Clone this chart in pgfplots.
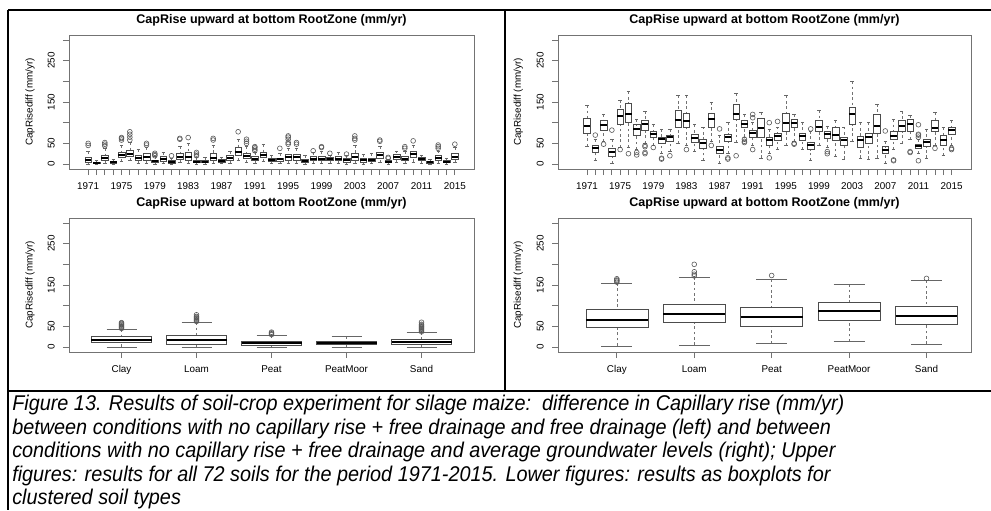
\documentclass[border=0pt]{standalone}
\usepackage{fontspec}
\setmainfont{Liberation Sans}
\newfontfamily\capfont[FakeStretch=0.93]{Liberation Sans}
\usepackage{pgfplots}
\pgfplotsset{compat=1.18}
\usepackage{pgfplotstable}
\usepgfplotslibrary{statistics}

% ---------- top-left: per year, free drainage ----------
\pgfplotstableread{
pos lw lq med uq uw
1 0 5 10 16 30
2 0 1 3 5 9
3 2 8 14 22 38
4 0 2 4 7 12
5 6 16 22 28 45
6 8 18 25 33 52
7 2 9 15 22 35
8 2 10 18 25 40
9 0 4 7 10 18
10 1 6 12 18 28
11 0 2 5 9 14
12 3 12 18 26 42
13 1 8 16 28 50
14 0 3 5 9 16
15 0 3 6 10 16
16 1 8 15 26 46
17 1 5 8 11 16
18 2 8 14 20 30
19 8 20 28 40 60
20 4 14 20 26 42
21 2 8 12 18 28
22 6 16 22 28 48
23 1 6 10 14 22
24 1 6 11 15 25
25 2 10 16 24 38
26 2 10 17 24 38
27 0 4 8 12 22
28 2 8 13 18 28
29 2 8 13 18 30
30 2 8 12 16 22
31 2 8 13 19 28
32 0 5 9 13 20
33 2 10 16 26 46
34 0 5 9 14 24
35 1 6 10 15 26
36 4 15 22 28 42
37 0 3 6 9 12
38 3 12 18 24 32
39 2 8 13 18 30
40 5 16 24 32 45
41 2 8 12 16 22
42 0 2 4 7 12
43 2 8 14 20 32
44 0 3 5 8 14
45 4 12 18 25 40
}\tlbox
\pgfplotstableread{
x y
1 45
1 50
3 44
3 48
3 52
5 58
5 62
5 64
6 58
6 65
6 72
6 78
8 46
8 50
9 20
9 23
9 26
11 20
12 60
12 62
13 64
14 20
14 24
14 28
16 58
16 62
19 78
20 50
20 55
20 60
21 32
21 36
21 40
21 42
24 38
25 48
25 52
25 60
25 65
25 68
26 48
26 52
28 32
29 40
29 42
30 26
32 24
33 58
33 62
33 68
36 55
36 58
37 14
37 16
39 38
39 42
40 56
43 38
43 42
43 46
45 48
}\tlout

% ---------- top-right: per year, groundwater ----------
\pgfplotstableread{
pos lw lq med uq uw
1 43 75 93 110 142
2 8 28 38 45 60
3 55 82 95 105 120
4 2 18 30 38 60
5 40 95 115 132 155
6 40 102 122 148 175
7 35 70 85 95 108
8 50 82 97 105 128
9 45 65 73 80 95
10 25 50 60 65 85
11 30 55 65 70 85
12 50 88 107 130 165
13 45 88 105 122 165
14 30 52 63 72 95
15 8 38 50 60 90
16 55 90 108 122 150
17 2 25 35 42 70
18 25 55 65 72 100
19 52 108 122 145 170
20 65 88 98 105 120
21 45 65 75 82 100
22 15 65 88 110 125
23 25 45 58 65 85
24 35 58 68 75 90
25 45 80 100 122 165
26 55 90 100 108 120
27 35 58 68 75 102
28 8 35 45 52 80
29 45 78 90 105 130
30 40 62 72 80 92
31 18 58 70 88 105
32 12 45 58 65 90
33 55 95 120 138 200
34 15 40 58 68 100
35 12 50 65 75 100
36 15 75 92 120 145
37 2 25 35 42 55
38 35 60 68 80 108
39 50 80 92 105 128
40 60 80 97 108 118
41 25 38 43 48 60
42 15 42 53 60 85
43 45 80 88 105 125
44 20 45 58 70 88
45 45 72 82 90 105
}\trbox
\pgfplotstableread{
x y
2 70
3 48
4 82
5 35
6 25
7 22
7 28
8 25
8 28
8 42
8 45
9 40
10 12
10 14
11 20
13 35
16 45
17 85
18 12
18 15
19 20
20 52
20 55
20 60
21 35
21 112
21 120
23 15
23 100
24 103
26 48
26 50
28 85
30 25
30 30
37 80
38 8
38 10
40 28
40 30
41 8
41 65
41 70
41 72
41 95
43 38
45 35
45 38
}\trout

% ---------- bottom-left: soil clusters, free drainage ----------
\pgfplotstableread{
pos lw lq med uq uw
1 0 11 17 25 43
2 0 6 17 28 60
3 0 4 9 14 28
4 0 6 10 14 26
5 0 6 12 19 36
}\blbox
\pgfplotstableread{
x y
1 45
1 47
1 49
1 51
1 53
1 55
1 57
1 59
2 62
2 64
2 66
2 68
2 70
2 72
2 74
2 78
3 30
3 32
3 34
3 36
5 37
5 39
5 41
5 43
5 45
5 47
5 49
5 51
5 53
5 55
5 60
}\blout

% ---------- bottom-right: soil clusters, groundwater ----------
\pgfplotstableread{
pos lw lq med uq uw
1 3 47 65 91 155
2 5 59 79 103 169
3 9 50 72 96 164
4 13 64 87 108 152
5 7 55 75 98 161
}\brbox
\pgfplotstableread{
x y
1 157
1 160
1 162
1 165
2 172
2 176
2 182
2 200
3 173
5 166
}\brout

\pgfplotsset{
  rpanel/.style={
    scale only axis,
    ymin=-12, ymax=312,
    ytick={0,50,100,150,200,250,300},
    yticklabels={0,50,,150,,250,},
    axis line style={draw=black!55, line width=0.6pt},
    tick style={draw=black!55, line width=0.6pt},
    tick align=outside,
    major tick length=4.5pt,
    xtick pos=bottom, ytick pos=left,
    tick label style={font=\fontsize{7.4}{8}\selectfont, inner sep=0pt, text=black},
    yticklabel style={rotate=90, anchor=south},
    xticklabel style={anchor=north},
    xticklabel shift=5.5pt,
    yticklabel shift=6pt,
    title={CapRise upward at bottom RootZone (mm/yr)},
    title style={font=\fontsize{9.4}{11}\selectfont\bfseries, at={(0.5,1)}, anchor=center, yshift=5.25pt},
    ylabel={CapRisediff (mm/yr)},
    ylabel style={font=\fontsize{7.4}{8}\selectfont, at={(axis description cs:-0.096,0.5)}, anchor=center},
  },
  rbp/.style={
    solid, draw=black!70, line width=0.45pt, fill=none, mark=none,
    boxplot/draw direction=y,
    boxplot/box extend=0.8,
    boxplot/whisker extend=0.4,
    boxplot/every median/.style={draw=black, line width=1.5pt},
    boxplot/draw/lower whisker/.code={%
      \draw[dash pattern=on 2pt off 2pt, draw=black!55, line width=0.45pt]
        (boxplot box cs:\pgfplotsboxplotvalue{lower whisker},0.5)
        -- (boxplot box cs:\pgfplotsboxplotvalue{lower quartile},0.5);
      \draw[solid, draw=black!60, line width=0.45pt]
        (boxplot whisker cs:\pgfplotsboxplotvalue{lower whisker},0)
        -- (boxplot whisker cs:\pgfplotsboxplotvalue{lower whisker},1);
    },
    boxplot/draw/upper whisker/.code={%
      \draw[dash pattern=on 2pt off 2pt, draw=black!55, line width=0.45pt]
        (boxplot box cs:\pgfplotsboxplotvalue{upper whisker},0.5)
        -- (boxplot box cs:\pgfplotsboxplotvalue{upper quartile},0.5);
      \draw[solid, draw=black!60, line width=0.45pt]
        (boxplot whisker cs:\pgfplotsboxplotvalue{upper whisker},0)
        -- (boxplot whisker cs:\pgfplotsboxplotvalue{upper whisker},1);
    },
  },
  rout/.style={only marks, mark=o, mark size=1.8pt, draw=black!65, line width=0.45pt},
}

% one box per table row: values are taken from the table and expanded before \addplot
\newcommand\boxesfrom[2]{% #1 table, #2 last row index
  \pgfplotsinvokeforeach{0,...,#2}{%
    \pgfplotstablegetelem{##1}{lw}\of{#1}\let\vlw\pgfplotsretval
    \pgfplotstablegetelem{##1}{lq}\of{#1}\let\vlq\pgfplotsretval
    \pgfplotstablegetelem{##1}{med}\of{#1}\let\vmed\pgfplotsretval
    \pgfplotstablegetelem{##1}{uq}\of{#1}\let\vuq\pgfplotsretval
    \pgfplotstablegetelem{##1}{uw}\of{#1}\let\vuw\pgfplotsretval
    \pgfplotstablegetelem{##1}{pos}\of{#1}\let\vpos\pgfplotsretval
    \edef\tmpplot{\noexpand\addplot[rbp, boxplot prepared={draw position=\vpos, lower whisker=\vlw, lower quartile=\vlq, median=\vmed, upper quartile=\vuq, upper whisker=\vuw}] coordinates {};}%
    \tmpplot
  }%
}

\begin{document}
\begin{tikzpicture}
\path[use as bounding box] (0pt,0pt) rectangle (743.25pt,-382.5pt);

% frame lines
\draw[line width=1.5pt] (6pt,-7.875pt) -- (743.25pt,-7.875pt);
\draw[line width=1.5pt] (6pt,-7.875pt) -- (6pt,-382.5pt);
\draw[line width=1.5pt] (378.75pt,-7.875pt) -- (378.75pt,-293.25pt);
\draw[line width=1.5pt] (6pt,-293.25pt) -- (743.25pt,-293.25pt);

% top-left
\begin{axis}[rpanel, at={(51.75pt,-126.75pt)}, anchor=south west,
  width=303.75pt, height=100.5pt,
  xmin=-1.3, xmax=47.3, xtick={1,...,45},
  xticklabels={1971,,,,1975,,,,1979,,,,1983,,,,1987,,,,1991,,,,1995,,,,1999,,,,2003,,,,2007,,,,2011,,,,2015}]
\boxesfrom{\tlbox}{44}
\addplot[rout] table[x=x,y=y]{\tlout};
\end{axis}

% top-right
\begin{axis}[rpanel, at={(418.5pt,-126.75pt)}, anchor=south west,
  width=309.75pt, height=100.5pt,
  xmin=-2.5, xmax=47.35, xtick={1,...,45},
  xticklabels={1971,,,,1975,,,,1979,,,,1983,,,,1987,,,,1991,,,,1995,,,,1999,,,,2003,,,,2007,,,,2011,,,,2015}]
\boxesfrom{\trbox}{44}
\addplot[rout] table[x=x,y=y]{\trout};
\end{axis}

% bottom-left
\begin{axis}[rpanel, at={(51.75pt,-264pt)}, anchor=south west,
  width=303.75pt, height=100.5pt,
  xmin=0.3, xmax=5.7, xtick={1,2,3,4,5},
  xticklabels={Clay,Loam,Peat,PeatMoor,Sand}]
\boxesfrom{\blbox}{4}
\addplot[rout] table[x=x,y=y]{\blout};
\end{axis}

% bottom-right
\begin{axis}[rpanel, at={(418.5pt,-264pt)}, anchor=south west,
  width=309.75pt, height=100.5pt,
  xmin=0.24, xmax=5.575, xtick={1,2,3,4,5},
  xticklabels={Clay,Loam,Peat,PeatMoor,Sand}]
\boxesfrom{\brbox}{4}
\addplot[rout] table[x=x,y=y]{\brout};
\end{axis}

% caption
\begin{scope}[every node/.style={anchor=base west, inner sep=0pt, font=\capfont\itshape\fontsize{16}{18}\selectfont}]
\node at (9pt,-308.2pt) {Figure 13. Results of soil-crop experiment for silage maize:\ \ difference in Capillary rise (mm/yr)};
\node at (9pt,-325.8pt) {between conditions with no capillary rise + free drainage and free drainage (left) and between};
\node at (9pt,-343.4pt) {conditions with no capillary rise + free drainage and average groundwater levels (right); Upper};
\node at (9pt,-361.0pt) {figures: results for all 72 soils for the period 1971-2015. Lower figures: results as boxplots for};
\node at (9pt,-378.6pt) {clustered soil types};
\end{scope}
\end{tikzpicture}
\end{document}
